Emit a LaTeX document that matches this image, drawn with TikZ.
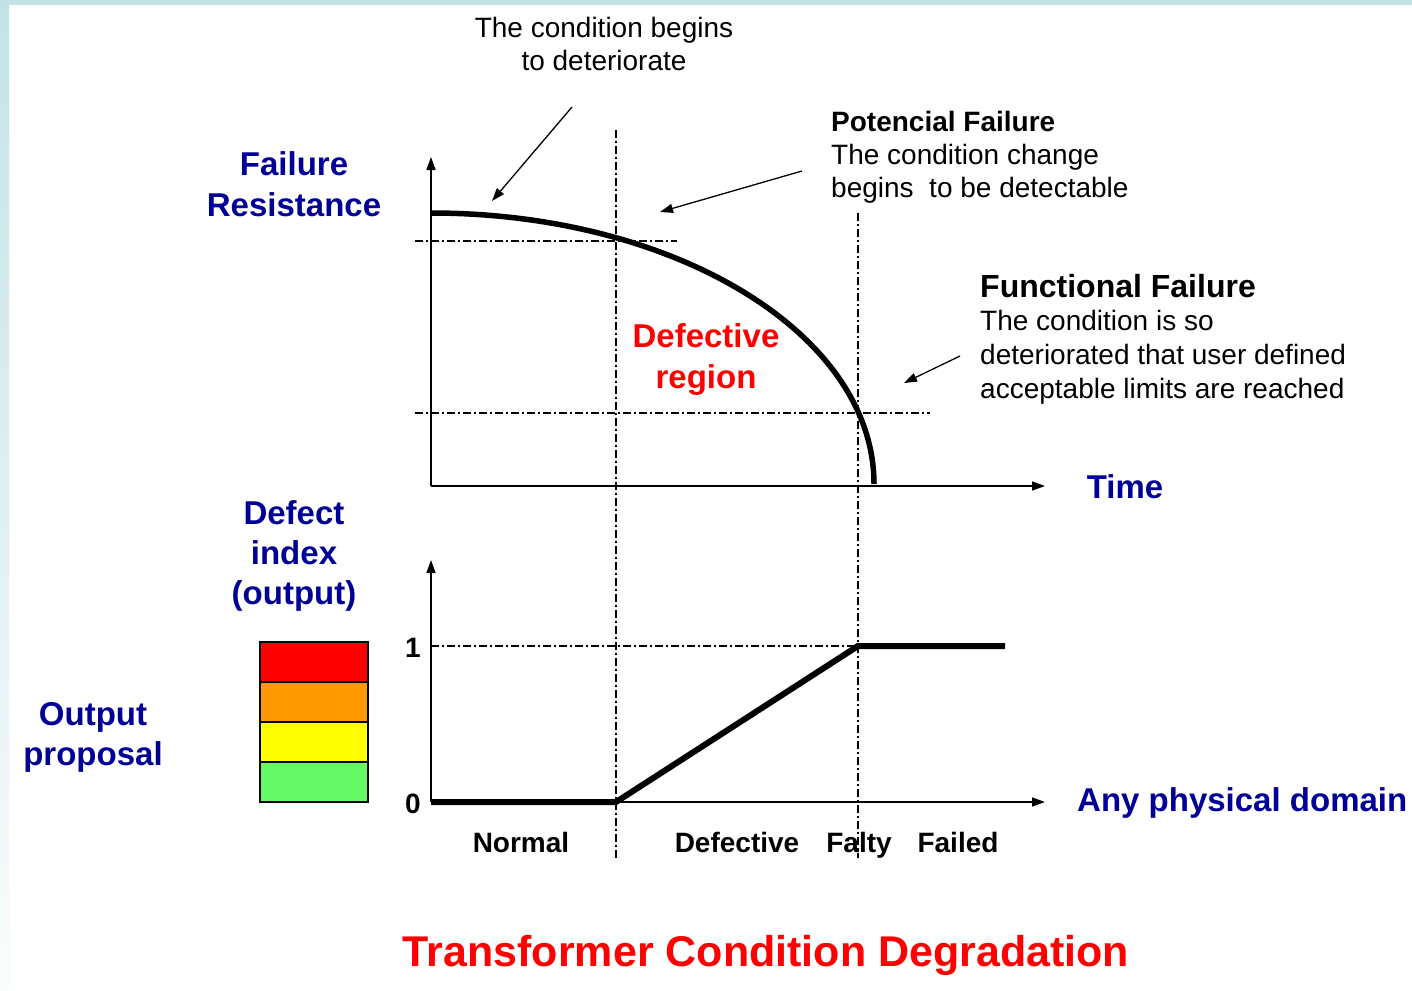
\documentclass[tikz,border=0pt]{standalone}
\usepackage{fontspec}
\setmainfont{Liberation Sans}
\usetikzlibrary{arrows.meta}
\definecolor{navyblue}{HTML}{000096}
\definecolor{brightred}{HTML}{FF0000}
\definecolor{framecyan}{HTML}{C2E3E6}
\definecolor{lvlred}{HTML}{FF0000}
\definecolor{lvlorange}{HTML}{FF9900}
\definecolor{lvlyellow}{HTML}{FFFF00}
\definecolor{lvlgreen}{HTML}{66F866}
\begin{document}
\begin{tikzpicture}[x=1pt,y=-1pt,
  every node/.style={inner sep=0pt},
  axis/.style={line width=1.6pt,-{Triangle[length=13pt,width=9pt]}},
  guide/.style={line width=1.3pt,dash pattern=on 7.5pt off 3.5pt on 1.5pt off 3.5pt},
  heavy/.style={line width=5.5pt},
  pointer/.style={line width=1.3pt,-{Triangle[length=13pt,width=9pt]}},
  body/.style={font=\fontsize{28}{33}\selectfont},
  bodyb/.style={font=\fontsize{28}{33}\selectfont\bfseries},
  axislabel/.style={font=\fontsize{33}{41}\selectfont\bfseries,text=navyblue,align=center},
  level/.style={draw,line width=1.3pt},
]
% page and frame
\useasboundingbox (0,0) rectangle (1412,990);
\fill[white] (0,0) rectangle (1412,990);
\fill[framecyan] (0,0) rectangle (1412,5);
\shade[top color=framecyan,bottom color=framecyan!8!white] (0,5) rectangle (9,990);

% reference points
\coordinate (o1) at (431,486);
\coordinate (y1) at (431,157);
\coordinate (x1) at (1045,486);
\coordinate (o2) at (431,802);
\coordinate (y2) at (431,560);
\coordinate (x2) at (1045,802);
\coordinate (onset) at (616,802);
\coordinate (full) at (858,646);
\coordinate (fend) at (1005,646);

% guide lines
\draw[guide] (415,241) -- (677,241);
\draw[guide] (415,413) -- (930,413);
\draw[guide] (431,646) -- (full);
\draw[guide] (616,130) -- (616,860);
\draw[guide] (858,213) -- (858,858);

% axes
\draw[axis] (o1) -- (y1);
\draw[axis] (o1) -- (x1);
\draw[axis] (o2) -- (y2);
\draw[axis] (o2) -- (x2);

% failure resistance curve
\draw[heavy] (431,213) arc[start angle=-90,end angle=0,x radius=443,y radius=271];

% defect index
\draw[line width=6pt,line join=miter] (o2) -- (onset) -- (full) -- (fend);

% output levels
\draw[level,fill=lvlred] (260,642) rectangle (368,682);
\draw[level,fill=lvlorange] (260,682) rectangle (368,722);
\draw[level,fill=lvlyellow] (260,722) rectangle (368,762);
\draw[level,fill=lvlgreen] (260,762) rectangle (368,802);

% annotations
\node[body,align=center] (begins) at (604,44) {The condition begins\\to deteriorate};
\node[bodyb,anchor=west] (pftitle) at (831,121) {Potencial Failure};
\node[body,anchor=west,align=left] (pftext) at (831,174) {The condition change\\begins\ \ to be detectable};
\node[font=\fontsize{32}{36}\selectfont\bfseries,anchor=west] (fftitle) at (980,286) {Functional Failure};
\node[font=\fontsize{28}{34}\selectfont,anchor=west,align=left] (fftext) at (980,357) {The condition is so\\deteriorated that user defined\\acceptable limits are reached};

\coordinate (a1s) at (572,107);
\coordinate (a1e) at (492,201);
\coordinate (a2s) at (802,171);
\coordinate (a2e) at (660,212);
\coordinate (a3s) at (960,356);
\coordinate (a3e) at (904,383);
\draw[pointer] (a1s) -- (a1e);
\draw[pointer] (a2s) -- (a2e);
\draw[pointer] (a3s) -- (a3e);

% axis labels
\node[axislabel] (resist) at (294,184) {Failure\\Resistance};
\node[axislabel] (time) at (1125,487) {Time};
\node[axislabel,font=\fontsize{33}{40}\selectfont\bfseries] (defidx) at (294,556) {Defect\\index\\(output)};
\node[axislabel,font=\fontsize{33}{40}\selectfont\bfseries] (proposal) at (93,737) {Output\\proposal};
\node[axislabel,anchor=west] (domain) at (1077,803) {Any physical domain};
\node[font=\fontsize{33}{41}\selectfont\bfseries,text=brightred,align=center] (region) at (706,360) {Defective\\region};

% ticks and states
\node[bodyb,anchor=base] (one) at (413,657) {1};
\node[bodyb,anchor=base] (zero) at (413,813) {0};
\node[bodyb,anchor=base] (normal) at (521,852) {Normal};
\node[bodyb,anchor=base] (defective) at (737,852) {Defective};
\node[bodyb,anchor=base] (falty) at (859,852) {Falty};
\node[bodyb,anchor=base] (failed) at (958,852) {Failed};

% title
\node[font=\fontsize{43}{48}\selectfont\bfseries,text=brightred] (title) at (766,955) {Transformer Condition Degradation};
\end{tikzpicture}
\end{document}
